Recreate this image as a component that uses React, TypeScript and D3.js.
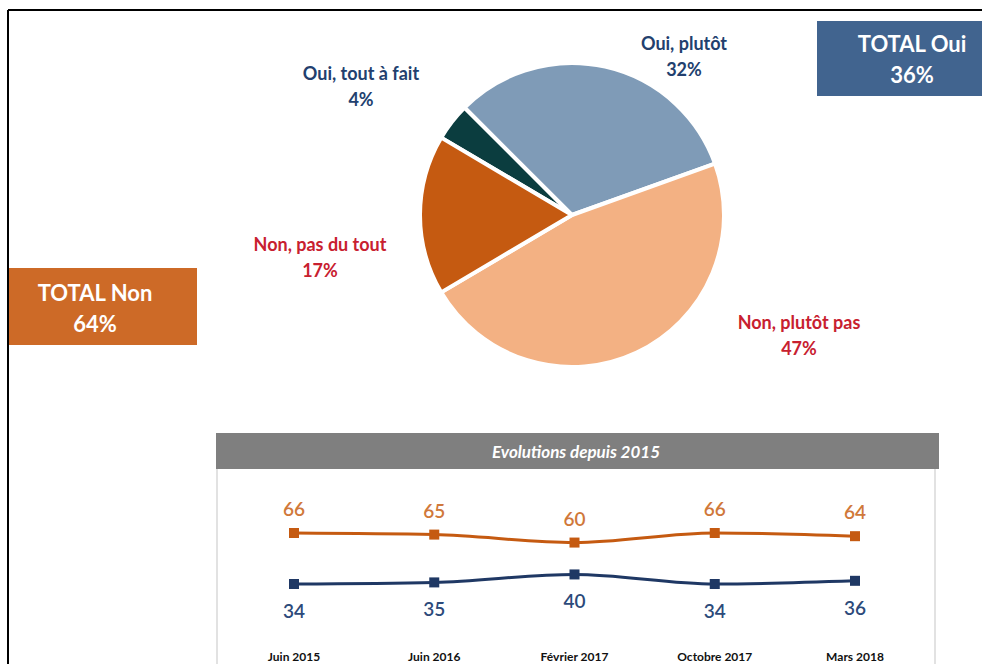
import React from "react";
import * as d3 from "d3";

// pie data
const pieLabels = ["Oui, tout à fait", "Oui, plutôt", "Non, plutôt pas", "Non, pas du tout"];
const pieValues = [4, 32, 47, 17];
const pieColors = ["#0b3d3f", "#7f9bb7", "#f3b183", "#c55a11"];

// evolution data
const dates = ["Juin 2015", "Juin 2016", "Février 2017", "Octobre 2017", "Mars 2018"];
const nonValues = [66, 65, 60, 66, 64];
const ouiValues = [34, 35, 40, 34, 36];

const font = "Lato, 'Open Sans', sans-serif";

export default function App() {
  const W = 982;
  const H = 664;

  // pie geometry
  const cx = 572;
  const cy = 215;
  const r = 152;
  const pie = d3
    .pie<number>()
    .sort(null)
    .startAngle((-59.4 * Math.PI) / 180)
    .endAngle((-59.4 * Math.PI) / 180 + 2 * Math.PI);
  const arcs = pie(pieValues);
  const arc = d3.arc<d3.PieArcDatum<number>>().innerRadius(0).outerRadius(r);

  // label spots (first line baseline)
  const labelPos = [
    [361, 80],
    [684, 50],
    [799, 329],
    [320, 251],
  ];
  const labelColor = ["#22406e", "#22406e", "#c8202f", "#c8202f"];

  // line chart scales
  const x = d3.scalePoint<string>().domain(dates).range([294, 855]);
  const y = d3.scaleLinear().domain([34, 66]).range([584, 533]);
  const line = d3
    .line<number>()
    .x((_, i) => x(dates[i]) as number)
    .y((d) => y(d))
    .curve(d3.curveMonotoneX);

  const orange = "#c55a11";
  const navy = "#1f3864";

  return (
    <svg
      width={W}
      height={H}
      style={{ position: "absolute", left: 0, top: 0, background: "#fff" }}
      fontFamily={font}
    >
      {/* frame */}
      <line x1={8} y1={10} x2={W} y2={10} stroke="#000" strokeWidth={2} />
      <line x1={8} y1={10} x2={8} y2={H} stroke="#000" strokeWidth={2} />

      {/* pie */}
      <g transform={`translate(${cx},${cy})`}>
        {arcs.map((a, i) => (
          <path key={i} d={arc(a) || ""} fill={pieColors[i]} stroke="#fff" strokeWidth={4} strokeLinejoin="round" />
        ))}
      </g>
      {pieLabels.map((l, i) => (
        <g key={l} fill={labelColor[i]} fontWeight={700} fontSize={18} textAnchor="middle">
          <text x={labelPos[i][0]} y={labelPos[i][1]}>{l}</text>
          <text x={labelPos[i][0]} y={labelPos[i][1] + 26}>{pieValues[i]}%</text>
        </g>
      ))}

      {/* totals */}
      <rect x={817} y={21} width={W - 817} height={75} fill="#41648f" />
      <g fill="#fff" fontWeight={700} fontSize={22} textAnchor="middle">
        <text x={912} y={52}>TOTAL Oui</text>
        <text x={912} y={83}>{pieValues[0] + pieValues[1]}%</text>
      </g>
      <rect x={9} y={268} width={188} height={77} fill="#cd6a27" />
      <g fill="#fff" fontWeight={700} fontSize={22} textAnchor="middle">
        <text x={95} y={301}>TOTAL Non</text>
        <text x={95} y={332}>{pieValues[2] + pieValues[3]}%</text>
      </g>

      {/* evolution panel */}
      <line x1={217} y1={469} x2={217} y2={H} stroke="#d9d9d9" strokeWidth={1.5} />
      <line x1={935} y1={469} x2={935} y2={H} stroke="#d9d9d9" strokeWidth={1.5} />
      <rect x={216} y={433} width={723} height={36} fill="#7f7f7f" />
      <text x={576} y={458} fill="#fff" fontSize={17} fontWeight={700} fontStyle="italic" textAnchor="middle">
        Evolutions depuis 2015
      </text>

      <path d={line(nonValues) || ""} fill="none" stroke={orange} strokeWidth={3} />
      <path d={line(ouiValues) || ""} fill="none" stroke={navy} strokeWidth={3} />
      {nonValues.map((v, i) => (
        <g key={"n" + i}>
          <rect x={(x(dates[i]) as number) - 5} y={y(v) - 5} width={10} height={10} fill={orange} />
          <text x={x(dates[i])} y={y(v) - 17} fill="#d0783a" fontSize={19} fontWeight={600} textAnchor="middle">
            {v}
          </text>
        </g>
      ))}
      {ouiValues.map((v, i) => (
        <g key={"o" + i}>
          <rect x={(x(dates[i]) as number) - 5} y={y(v) - 5} width={10} height={10} fill={navy} />
          <text x={x(dates[i])} y={y(v) + 34} fill="#2c4a7a" fontSize={19} fontWeight={600} textAnchor="middle">
            {v}
          </text>
        </g>
      ))}
      {dates.map((d) => (
        <text key={d} x={x(d)} y={661} fontSize={12} fontWeight={700} fill="#111" textAnchor="middle">
          {d}
        </text>
      ))}
    </svg>
  );
}
